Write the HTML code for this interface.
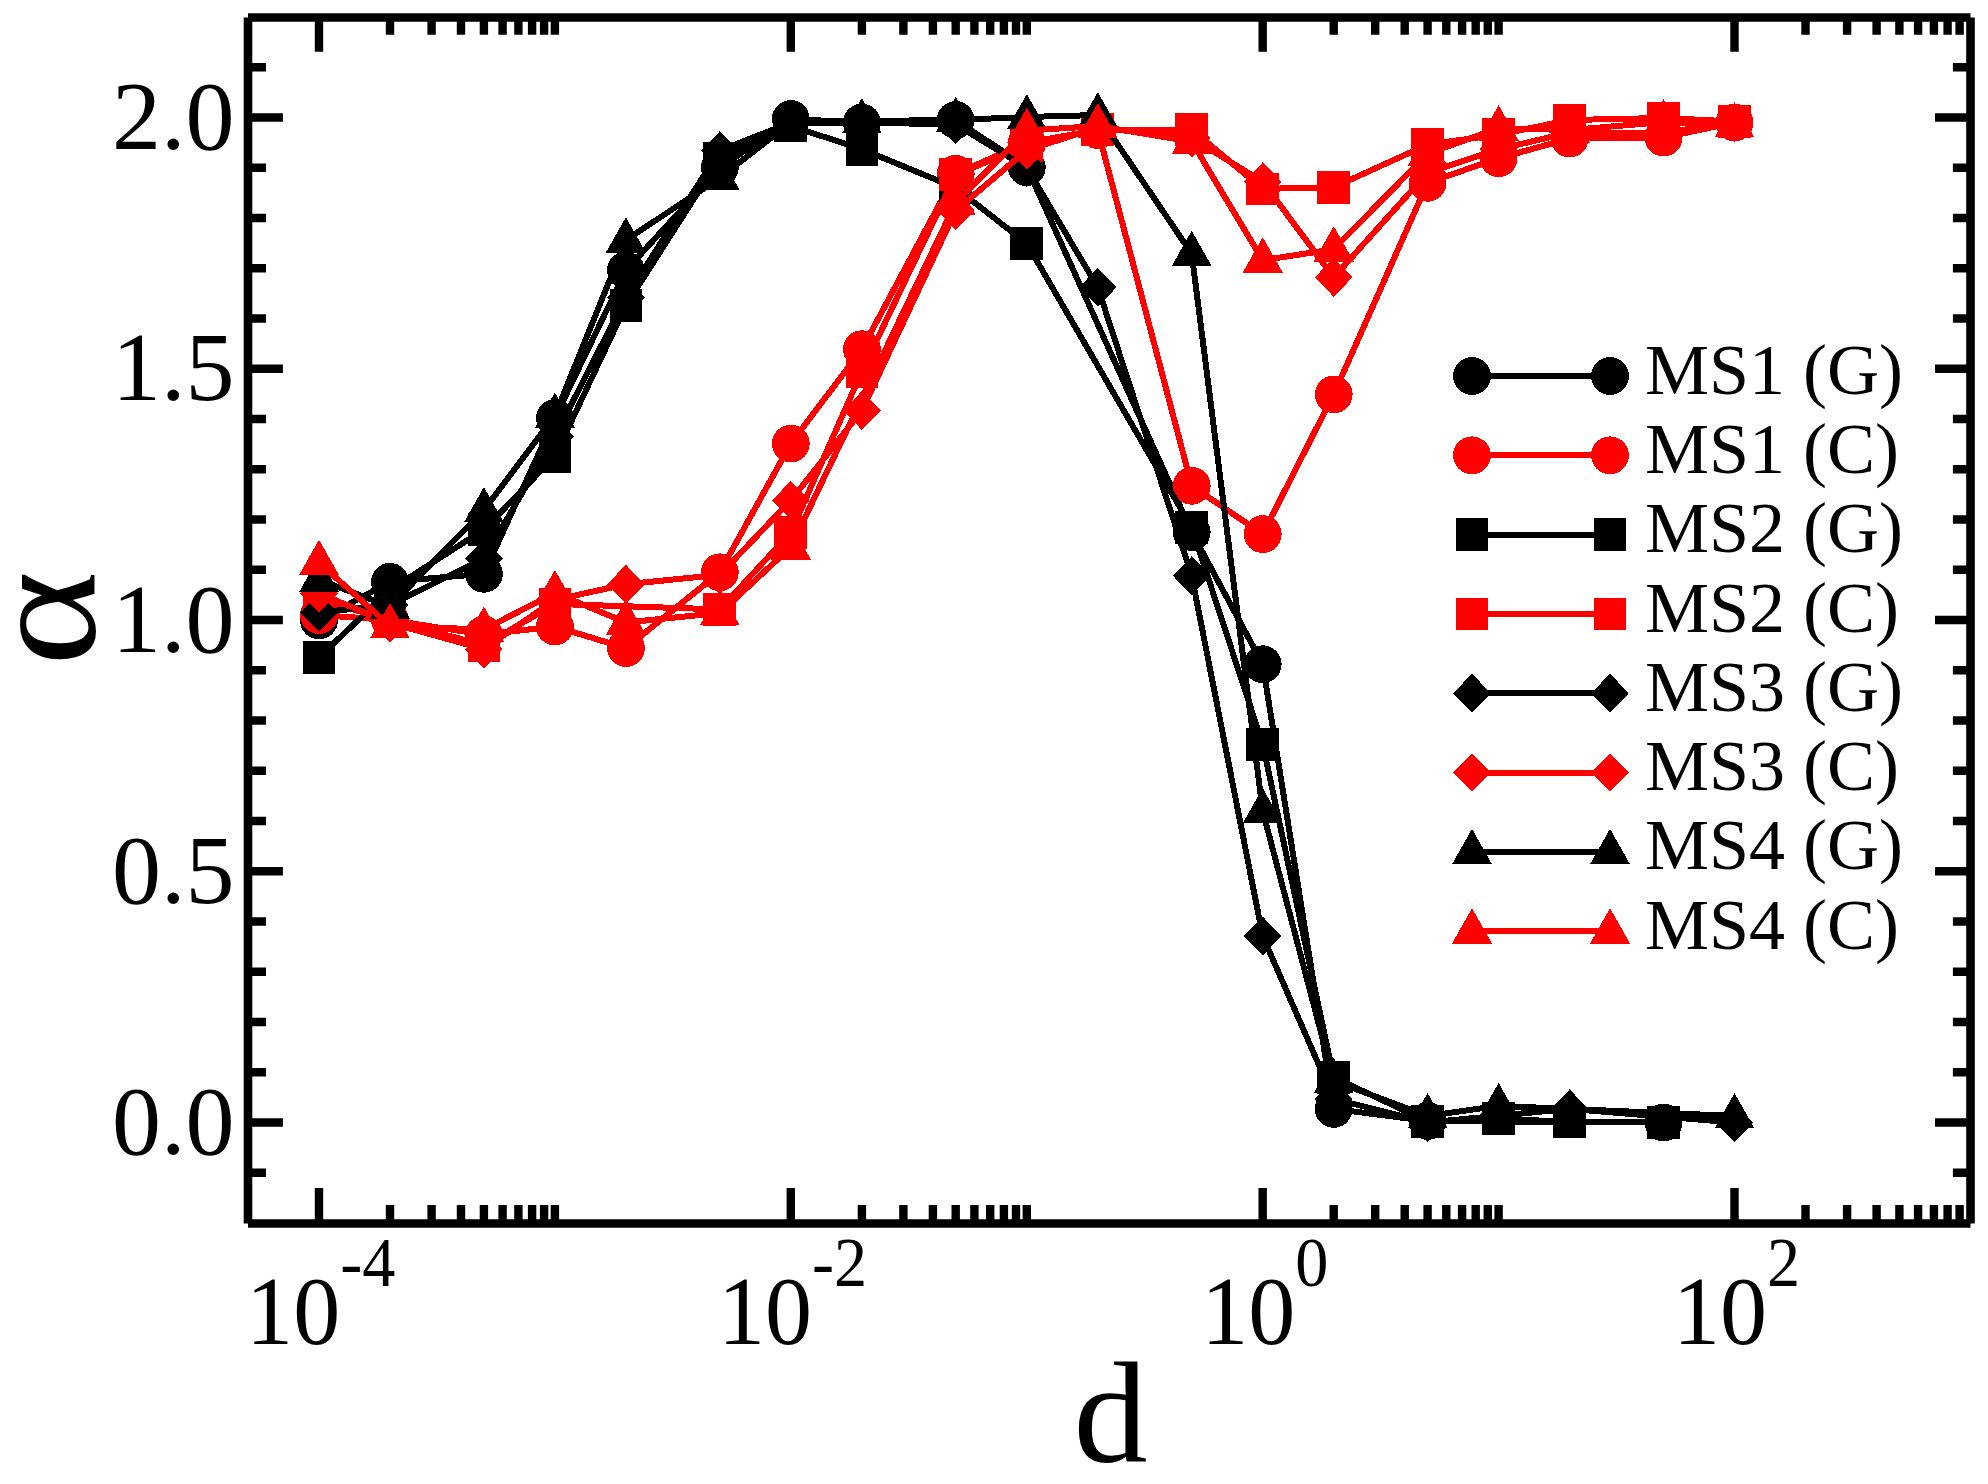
<!DOCTYPE html><html><head><meta charset="utf-8"><title>alpha vs d</title><style>html,body{margin:0;padding:0;background:#fff;}svg{display:block;}text{font-family:"Liberation Serif","Times New Roman",serif;fill:#000;}</style></head><body>
<svg width="1988" height="1484" viewBox="0 0 1988 1484">
<rect width="1988" height="1484" fill="#fff"/>
<g stroke-linejoin="miter" stroke-linecap="butt" shape-rendering="crispEdges">
<polyline fill="none" stroke="#000" stroke-width="6.0" points="319,620.5 390,581.8 483.9,573.8 554.9,418 625.9,270.3 719.8,167.8 790.8,119 861.9,122.5 955.7,120 1026.8,167.2 1191.7,532.1 1262.7,664.2 1333.7,1108.9 1427.6,1121 1663.5,1122.5"/>
<g><circle cx="319" cy="620.5" r="18.9" fill="#000"/><circle cx="390" cy="581.8" r="18.9" fill="#000"/><circle cx="483.9" cy="573.8" r="18.9" fill="#000"/><circle cx="554.9" cy="418" r="18.9" fill="#000"/><circle cx="625.9" cy="270.3" r="18.9" fill="#000"/><circle cx="719.8" cy="167.8" r="18.9" fill="#000"/><circle cx="790.8" cy="119" r="18.9" fill="#000"/><circle cx="861.9" cy="122.5" r="18.9" fill="#000"/><circle cx="955.7" cy="120" r="18.9" fill="#000"/><circle cx="1026.8" cy="167.2" r="18.9" fill="#000"/><circle cx="1191.7" cy="532.1" r="18.9" fill="#000"/><circle cx="1262.7" cy="664.2" r="18.9" fill="#000"/><circle cx="1333.7" cy="1108.9" r="18.9" fill="#000"/><circle cx="1427.6" cy="1121" r="18.9" fill="#000"/><circle cx="1663.5" cy="1122.5" r="18.9" fill="#000"/></g>
<polyline fill="none" stroke="#f00" stroke-width="6.0" points="319,615 390,620 483.9,634.6 554.9,626.5 625.9,648.1 719.8,572.3 790.8,443.6 861.9,349.2 955.7,173.8 1026.8,142.6 1097.8,130.1 1191.7,485.8 1262.7,534.1 1333.7,394.4 1427.6,182.8 1498.6,158.2 1569.6,138.6 1663.5,137.6 1734.5,122.5"/>
<g><circle cx="319" cy="615" r="18.9" fill="#f00"/><circle cx="390" cy="620" r="18.9" fill="#f00"/><circle cx="483.9" cy="634.6" r="18.9" fill="#f00"/><circle cx="554.9" cy="626.5" r="18.9" fill="#f00"/><circle cx="625.9" cy="648.1" r="18.9" fill="#f00"/><circle cx="719.8" cy="572.3" r="18.9" fill="#f00"/><circle cx="790.8" cy="443.6" r="18.9" fill="#f00"/><circle cx="861.9" cy="349.2" r="18.9" fill="#f00"/><circle cx="955.7" cy="173.8" r="18.9" fill="#f00"/><circle cx="1026.8" cy="142.6" r="18.9" fill="#f00"/><circle cx="1097.8" cy="130.1" r="18.9" fill="#f00"/><circle cx="1191.7" cy="485.8" r="18.9" fill="#f00"/><circle cx="1262.7" cy="534.1" r="18.9" fill="#f00"/><circle cx="1333.7" cy="394.4" r="18.9" fill="#f00"/><circle cx="1427.6" cy="182.8" r="18.9" fill="#f00"/><circle cx="1498.6" cy="158.2" r="18.9" fill="#f00"/><circle cx="1569.6" cy="138.6" r="18.9" fill="#f00"/><circle cx="1663.5" cy="137.6" r="18.9" fill="#f00"/><circle cx="1734.5" cy="122.5" r="18.9" fill="#f00"/></g>
<polyline fill="none" stroke="#000" stroke-width="6.0" points="319,657.2 390,589.9 483.9,529.6 554.9,456.2 625.9,305.4 719.8,158.2 790.8,126 861.9,149.2 955.7,187.8 1026.8,243.6 1191.7,527.5 1262.7,744.1 1333.7,1077.3 1427.6,1121.5 1498.6,1118.5 1569.6,1122 1663.5,1122.5"/>
<g><rect x="302.6" y="640.8" width="32.8" height="32.8" fill="#000"/><rect x="373.6" y="573.5" width="32.8" height="32.8" fill="#000"/><rect x="467.5" y="513.2" width="32.8" height="32.8" fill="#000"/><rect x="538.5" y="439.8" width="32.8" height="32.8" fill="#000"/><rect x="609.5" y="289" width="32.8" height="32.8" fill="#000"/><rect x="703.4" y="141.8" width="32.8" height="32.8" fill="#000"/><rect x="774.4" y="109.6" width="32.8" height="32.8" fill="#000"/><rect x="845.5" y="132.8" width="32.8" height="32.8" fill="#000"/><rect x="939.3" y="171.4" width="32.8" height="32.8" fill="#000"/><rect x="1010.4" y="227.2" width="32.8" height="32.8" fill="#000"/><rect x="1175.3" y="511.1" width="32.8" height="32.8" fill="#000"/><rect x="1246.3" y="727.7" width="32.8" height="32.8" fill="#000"/><rect x="1317.3" y="1060.9" width="32.8" height="32.8" fill="#000"/><rect x="1411.2" y="1105.1" width="32.8" height="32.8" fill="#000"/><rect x="1482.2" y="1102.1" width="32.8" height="32.8" fill="#000"/><rect x="1553.2" y="1105.6" width="32.8" height="32.8" fill="#000"/><rect x="1647.1" y="1106.1" width="32.8" height="32.8" fill="#000"/></g>
<polyline fill="none" stroke="#f00" stroke-width="6.0" points="319,599.9 390,620 483.9,645.1 554.9,603.9 719.8,609.4 790.8,532.6 861.9,371.3 955.7,174.8 1026.8,145.1 1097.8,129.6 1191.7,129.6 1262.7,188.9 1333.7,187.3 1427.6,144.6 1498.6,134.6 1569.6,120 1663.5,118 1734.5,121.5"/>
<g><rect x="302.6" y="583.5" width="32.8" height="32.8" fill="#f00"/><rect x="373.6" y="603.6" width="32.8" height="32.8" fill="#f00"/><rect x="467.5" y="628.7" width="32.8" height="32.8" fill="#f00"/><rect x="538.5" y="587.5" width="32.8" height="32.8" fill="#f00"/><rect x="703.4" y="593" width="32.8" height="32.8" fill="#f00"/><rect x="774.4" y="516.2" width="32.8" height="32.8" fill="#f00"/><rect x="845.5" y="354.9" width="32.8" height="32.8" fill="#f00"/><rect x="939.3" y="158.4" width="32.8" height="32.8" fill="#f00"/><rect x="1010.4" y="128.7" width="32.8" height="32.8" fill="#f00"/><rect x="1081.4" y="113.2" width="32.8" height="32.8" fill="#f00"/><rect x="1175.3" y="113.2" width="32.8" height="32.8" fill="#f00"/><rect x="1246.3" y="172.5" width="32.8" height="32.8" fill="#f00"/><rect x="1317.3" y="170.9" width="32.8" height="32.8" fill="#f00"/><rect x="1411.2" y="128.2" width="32.8" height="32.8" fill="#f00"/><rect x="1482.2" y="118.2" width="32.8" height="32.8" fill="#f00"/><rect x="1553.2" y="103.6" width="32.8" height="32.8" fill="#f00"/><rect x="1647.1" y="101.6" width="32.8" height="32.8" fill="#f00"/><rect x="1718.1" y="105.1" width="32.8" height="32.8" fill="#f00"/></g>
<polyline fill="none" stroke="#000" stroke-width="6.0" points="319,612.5 390,604.9 483.9,558.7 554.9,436.6 625.9,297.4 719.8,150.7 790.8,122.5 861.9,122.5 955.7,124.5 1026.8,167.8 1097.8,287.3 1191.7,575.8 1262.7,936.1 1333.7,1098.9 1427.6,1122.5 1569.6,1108.9 1734.5,1122.5"/>
<g><polygon points="319,593 337.8,612.5 319,632 300.2,612.5" fill="#000"/><polygon points="390,585.4 408.8,604.9 390,624.4 371.2,604.9" fill="#000"/><polygon points="483.9,539.2 502.7,558.7 483.9,578.2 465.1,558.7" fill="#000"/><polygon points="554.9,417.1 573.7,436.6 554.9,456.1 536.1,436.6" fill="#000"/><polygon points="625.9,277.9 644.7,297.4 625.9,316.9 607.1,297.4" fill="#000"/><polygon points="719.8,131.2 738.6,150.7 719.8,170.2 701,150.7" fill="#000"/><polygon points="790.8,103 809.6,122.5 790.8,142 772,122.5" fill="#000"/><polygon points="861.9,103 880.7,122.5 861.9,142 843.1,122.5" fill="#000"/><polygon points="955.7,105 974.5,124.5 955.7,144 936.9,124.5" fill="#000"/><polygon points="1026.8,148.2 1045.6,167.8 1026.8,187.2 1008,167.8" fill="#000"/><polygon points="1097.8,267.8 1116.6,287.3 1097.8,306.8 1079,287.3" fill="#000"/><polygon points="1191.7,556.3 1210.5,575.8 1191.7,595.3 1172.9,575.8" fill="#000"/><polygon points="1262.7,916.6 1281.5,936.1 1262.7,955.6 1243.9,936.1" fill="#000"/><polygon points="1333.7,1079.4 1352.5,1098.9 1333.7,1118.4 1314.9,1098.9" fill="#000"/><polygon points="1427.6,1103 1446.4,1122.5 1427.6,1142 1408.8,1122.5" fill="#000"/><polygon points="1569.6,1089.4 1588.4,1108.9 1569.6,1128.4 1550.8,1108.9" fill="#000"/><polygon points="1734.5,1103 1753.3,1122.5 1734.5,1142 1715.7,1122.5" fill="#000"/></g>
<polyline fill="none" stroke="#f00" stroke-width="6.0" points="319,593.4 390,623 483.9,649.1 554.9,599.9 625.9,584.3 719.8,574.8 790.8,500.4 861.9,410.5 955.7,210.5 1026.8,150.2 1097.8,127.5 1191.7,138.1 1262.7,181.8 1333.7,277.3 1427.6,172.8 1498.6,149.2 1569.6,132.6 1663.5,132.6 1734.5,122.5"/>
<g><polygon points="319,573.9 337.8,593.4 319,612.9 300.2,593.4" fill="#f00"/><polygon points="390,603.5 408.8,623 390,642.5 371.2,623" fill="#f00"/><polygon points="483.9,629.6 502.7,649.1 483.9,668.6 465.1,649.1" fill="#f00"/><polygon points="554.9,580.4 573.7,599.9 554.9,619.4 536.1,599.9" fill="#f00"/><polygon points="625.9,564.8 644.7,584.3 625.9,603.8 607.1,584.3" fill="#f00"/><polygon points="719.8,555.3 738.6,574.8 719.8,594.3 701,574.8" fill="#f00"/><polygon points="790.8,480.9 809.6,500.4 790.8,519.9 772,500.4" fill="#f00"/><polygon points="861.9,391 880.7,410.5 861.9,430 843.1,410.5" fill="#f00"/><polygon points="955.7,191 974.5,210.5 955.7,230 936.9,210.5" fill="#f00"/><polygon points="1026.8,130.7 1045.6,150.2 1026.8,169.7 1008,150.2" fill="#f00"/><polygon points="1097.8,108 1116.6,127.5 1097.8,147 1079,127.5" fill="#f00"/><polygon points="1191.7,118.6 1210.5,138.1 1191.7,157.6 1172.9,138.1" fill="#f00"/><polygon points="1262.7,162.3 1281.5,181.8 1262.7,201.3 1243.9,181.8" fill="#f00"/><polygon points="1333.7,257.8 1352.5,277.3 1333.7,296.8 1314.9,277.3" fill="#f00"/><polygon points="1427.6,153.3 1446.4,172.8 1427.6,192.3 1408.8,172.8" fill="#f00"/><polygon points="1498.6,129.7 1517.4,149.2 1498.6,168.7 1479.8,149.2" fill="#f00"/><polygon points="1569.6,113.1 1588.4,132.6 1569.6,152.1 1550.8,132.6" fill="#f00"/><polygon points="1663.5,113.1 1682.3,132.6 1663.5,152.1 1644.7,132.6" fill="#f00"/><polygon points="1734.5,103 1753.3,122.5 1734.5,142 1715.7,122.5" fill="#f00"/></g>
<polyline fill="none" stroke="#000" stroke-width="6.0" points="319,579.8 390,606.4 483.9,510 554.9,415.5 625.9,240.1 719.8,177.8 790.8,122.5 861.9,121 955.7,120 1026.8,117 1097.8,115 1191.7,253.7 1262.7,811 1333.7,1080.8 1427.6,1116 1498.6,1105.9 1734.5,1116"/>
<g><polygon points="319,556.8 339,592.2 299,592.2" fill="#000"/><polygon points="390,583.4 410,618.8 370,618.8" fill="#000"/><polygon points="483.9,487 503.9,522.4 463.9,522.4" fill="#000"/><polygon points="554.9,392.5 574.9,427.9 534.9,427.9" fill="#000"/><polygon points="625.9,217.1 645.9,252.5 605.9,252.5" fill="#000"/><polygon points="719.8,154.8 739.8,190.2 699.8,190.2" fill="#000"/><polygon points="790.8,99.5 810.8,134.9 770.8,134.9" fill="#000"/><polygon points="861.9,98 881.9,133.4 841.9,133.4" fill="#000"/><polygon points="955.7,97 975.7,132.4 935.7,132.4" fill="#000"/><polygon points="1026.8,94 1046.8,129.4 1006.8,129.4" fill="#000"/><polygon points="1097.8,92 1117.8,127.4 1077.8,127.4" fill="#000"/><polygon points="1191.7,230.7 1211.7,266.1 1171.7,266.1" fill="#000"/><polygon points="1262.7,788 1282.7,823.4 1242.7,823.4" fill="#000"/><polygon points="1333.7,1057.8 1353.7,1093.2 1313.7,1093.2" fill="#000"/><polygon points="1427.6,1093 1447.6,1128.4 1407.6,1128.4" fill="#000"/><polygon points="1498.6,1082.9 1518.6,1118.3 1478.6,1118.3" fill="#000"/><polygon points="1734.5,1093 1754.5,1128.4 1714.5,1128.4" fill="#000"/></g>
<polyline fill="none" stroke="#f00" stroke-width="6.0" points="319,562.7 390,626 483.9,629.5 554.9,592.9 625.9,622.5 719.8,613 790.8,547.1 955.7,202.9 1026.8,130.6 1097.8,126 1191.7,141.6 1262.7,260.2 1333.7,249.2 1427.6,153.7 1498.6,128.1 1569.6,130.1 1663.5,122 1734.5,125"/>
<g><polygon points="319,539.7 339,575.1 299,575.1" fill="#f00"/><polygon points="390,603 410,638.4 370,638.4" fill="#f00"/><polygon points="483.9,606.5 503.9,641.9 463.9,641.9" fill="#f00"/><polygon points="554.9,569.9 574.9,605.3 534.9,605.3" fill="#f00"/><polygon points="625.9,599.5 645.9,634.9 605.9,634.9" fill="#f00"/><polygon points="719.8,590 739.8,625.4 699.8,625.4" fill="#f00"/><polygon points="790.8,524.1 810.8,559.5 770.8,559.5" fill="#f00"/><polygon points="955.7,179.9 975.7,215.3 935.7,215.3" fill="#f00"/><polygon points="1026.8,107.6 1046.8,143 1006.8,143" fill="#f00"/><polygon points="1097.8,103 1117.8,138.4 1077.8,138.4" fill="#f00"/><polygon points="1191.7,118.6 1211.7,154 1171.7,154" fill="#f00"/><polygon points="1262.7,237.2 1282.7,272.6 1242.7,272.6" fill="#f00"/><polygon points="1333.7,226.2 1353.7,261.6 1313.7,261.6" fill="#f00"/><polygon points="1427.6,130.7 1447.6,166.1 1407.6,166.1" fill="#f00"/><polygon points="1498.6,105.1 1518.6,140.5 1478.6,140.5" fill="#f00"/><polygon points="1569.6,107.1 1589.6,142.5 1549.6,142.5" fill="#f00"/><polygon points="1663.5,99 1683.5,134.4 1643.5,134.4" fill="#f00"/><polygon points="1734.5,102 1754.5,137.4 1714.5,137.4" fill="#f00"/></g>
</g>
<path fill="none" stroke="#000" stroke-width="8.4" d="M319 1223.5V1188.1M319 17.5V51.8M790.8 1223.5V1188.1M790.8 17.5V51.8M1262.7 1223.5V1188.1M1262.7 17.5V51.8M1734.5 1223.5V1188.1M1734.5 17.5V51.8M390 1223.5V1205M390 17.5V34.7M431.6 1223.5V1205M431.6 17.5V34.7M461 1223.5V1205M461 17.5V34.7M483.9 1223.5V1205M483.9 17.5V34.7M502.6 1223.5V1205M502.6 17.5V34.7M518.4 1223.5V1205M518.4 17.5V34.7M532.1 1223.5V1205M532.1 17.5V34.7M544.1 1223.5V1205M544.1 17.5V34.7M554.9 1223.5V1205M554.9 17.5V34.7M861.9 1223.5V1205M861.9 17.5V34.7M903.4 1223.5V1205M903.4 17.5V34.7M932.9 1223.5V1205M932.9 17.5V34.7M955.7 1223.5V1205M955.7 17.5V34.7M974.4 1223.5V1205M974.4 17.5V34.7M990.2 1223.5V1205M990.2 17.5V34.7M1003.9 1223.5V1205M1003.9 17.5V34.7M1016 1223.5V1205M1016 17.5V34.7M1026.8 1223.5V1205M1026.8 17.5V34.7M1333.7 1223.5V1205M1333.7 17.5V34.7M1375.2 1223.5V1205M1375.2 17.5V34.7M1404.7 1223.5V1205M1404.7 17.5V34.7M1427.6 1223.5V1205M1427.6 17.5V34.7M1446.3 1223.5V1205M1446.3 17.5V34.7M1462.1 1223.5V1205M1462.1 17.5V34.7M1475.7 1223.5V1205M1475.7 17.5V34.7M1487.8 1223.5V1205M1487.8 17.5V34.7M1498.6 1223.5V1205M1498.6 17.5V34.7M1805.5 1223.5V1205M1805.5 17.5V34.7M1847.1 1223.5V1205M1847.1 17.5V34.7M1876.6 1223.5V1205M1876.6 17.5V34.7M1899.4 1223.5V1205M1899.4 17.5V34.7M1918.1 1223.5V1205M1918.1 17.5V34.7M1933.9 1223.5V1205M1933.9 17.5V34.7M1947.6 1223.5V1205M1947.6 17.5V34.7M1959.6 1223.5V1205M1959.6 17.5V34.7M248 1172.8H266M1970.5 1172.8H1952.9M248 1122.5H282.9M1970.5 1122.5H1935M248 1072.2H266M1970.5 1072.2H1952.9M248 1022H266M1970.5 1022H1952.9M248 971.8H266M1970.5 971.8H1952.9M248 921.5H266M1970.5 921.5H1952.9M248 871.2H282.9M1970.5 871.2H1935M248 821H266M1970.5 821H1952.9M248 770.8H266M1970.5 770.8H1952.9M248 720.5H266M1970.5 720.5H1952.9M248 670.2H266M1970.5 670.2H1952.9M248 620H282.9M1970.5 620H1935M248 569.8H266M1970.5 569.8H1952.9M248 519.5H266M1970.5 519.5H1952.9M248 469.2H266M1970.5 469.2H1952.9M248 419H266M1970.5 419H1952.9M248 368.8H282.9M1970.5 368.8H1935M248 318.5H266M1970.5 318.5H1952.9M248 268.2H266M1970.5 268.2H1952.9M248 218H266M1970.5 218H1952.9M248 167.8H266M1970.5 167.8H1952.9M248 117.5H282.9M1970.5 117.5H1935M248 67.2H266M1970.5 67.2H1952.9"/>
<path fill="none" stroke="#000" stroke-linecap="butt" stroke-width="8.6" d="M248 17.5H1970.5 M1970.5 17.5V1223.5 M1970.5 1223.5H248 M248 1223.5V17.5"/>
<text x="234.6" y="149" font-size="98" text-anchor="end">2.0</text>
<text x="234.6" y="400.2" font-size="98" text-anchor="end">1.5</text>
<text x="234.6" y="651.5" font-size="98" text-anchor="end">1.0</text>
<text x="234.6" y="902.8" font-size="98" text-anchor="end">0.5</text>
<text x="234.6" y="1154" font-size="98" text-anchor="end">0.0</text>
<text transform="translate(246.1,1343.7) scale(0.96,1)" font-size="98">10<tspan font-size="69" dy="-58">-4</tspan></text>
<text transform="translate(717.9,1343.7) scale(0.96,1)" font-size="98">10<tspan font-size="69" dy="-58">-2</tspan></text>
<text transform="translate(1201.2,1343.7) scale(0.96,1)" font-size="98">10<tspan font-size="69" dy="-58">0</tspan></text>
<text transform="translate(1673,1343.7) scale(0.96,1)" font-size="98">10<tspan font-size="69" dy="-58">2</tspan></text>
<text transform="translate(1073.5,1462) scale(1.03,1)" font-size="144">d</text>
<text transform="translate(94.2,666.3) rotate(-90) scale(1.163,1)" font-size="157">&#945;</text>
<g shape-rendering="crispEdges">
<line x1="1472" y1="376" x2="1610" y2="376" stroke="#000" stroke-width="6.0"/>
<circle cx="1472" cy="376" r="18.9" fill="#000"/>
<circle cx="1610" cy="376" r="18.9" fill="#000"/>
<text x="1645" y="393.6" font-size="72">MS1 (G)</text>
<line x1="1472" y1="455.3" x2="1610" y2="455.3" stroke="#f00" stroke-width="6.0"/>
<circle cx="1472" cy="455.3" r="18.9" fill="#f00"/>
<circle cx="1610" cy="455.3" r="18.9" fill="#f00"/>
<text x="1645" y="472.9" font-size="72">MS1 (C)</text>
<line x1="1472" y1="534.6" x2="1610" y2="534.6" stroke="#000" stroke-width="6.0"/>
<rect x="1455.6" y="518.2" width="32.8" height="32.8" fill="#000"/>
<rect x="1593.6" y="518.2" width="32.8" height="32.8" fill="#000"/>
<text x="1645" y="552.2" font-size="72">MS2 (G)</text>
<line x1="1472" y1="613.9" x2="1610" y2="613.9" stroke="#f00" stroke-width="6.0"/>
<rect x="1455.6" y="597.5" width="32.8" height="32.8" fill="#f00"/>
<rect x="1593.6" y="597.5" width="32.8" height="32.8" fill="#f00"/>
<text x="1645" y="631.5" font-size="72">MS2 (C)</text>
<line x1="1472" y1="693.2" x2="1610" y2="693.2" stroke="#000" stroke-width="6.0"/>
<polygon points="1472,673.7 1490.8,693.2 1472,712.7 1453.2,693.2" fill="#000"/>
<polygon points="1610,673.7 1628.8,693.2 1610,712.7 1591.2,693.2" fill="#000"/>
<text x="1645" y="710.8" font-size="72">MS3 (G)</text>
<line x1="1472" y1="772.5" x2="1610" y2="772.5" stroke="#f00" stroke-width="6.0"/>
<polygon points="1472,753 1490.8,772.5 1472,792 1453.2,772.5" fill="#f00"/>
<polygon points="1610,753 1628.8,772.5 1610,792 1591.2,772.5" fill="#f00"/>
<text x="1645" y="790.1" font-size="72">MS3 (C)</text>
<line x1="1472" y1="851.8" x2="1610" y2="851.8" stroke="#000" stroke-width="6.0"/>
<polygon points="1472,828.8 1492,864.2 1452,864.2" fill="#000"/>
<polygon points="1610,828.8 1630,864.2 1590,864.2" fill="#000"/>
<text x="1645" y="869.4" font-size="72">MS4 (G)</text>
<line x1="1472" y1="931.1" x2="1610" y2="931.1" stroke="#f00" stroke-width="6.0"/>
<polygon points="1472,908.1 1492,943.5 1452,943.5" fill="#f00"/>
<polygon points="1610,908.1 1630,943.5 1590,943.5" fill="#f00"/>
<text x="1645" y="948.7" font-size="72">MS4 (C)</text>
</g>
</svg></body></html>
